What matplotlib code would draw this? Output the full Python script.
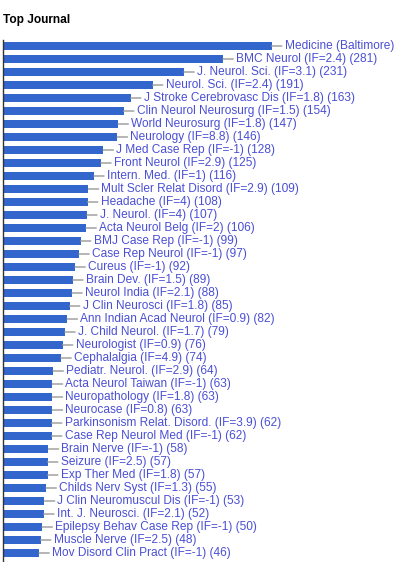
import matplotlib
matplotlib.use("Agg")
import matplotlib.pyplot as plt

journals = [
    "Medicine (Baltimore)", "BMC Neurol", "J. Neurol. Sci.", "Neurol. Sci.",
    "J Stroke Cerebrovasc Dis", "Clin Neurol Neurosurg", "World Neurosurg",
    "Neurology", "J Med Case Rep", "Front Neurol", "Intern. Med.",
    "Mult Scler Relat Disord", "Headache", "J. Neurol.", "Acta Neurol Belg",
    "BMJ Case Rep", "Case Rep Neurol", "Cureus", "Brain Dev.", "Neurol India",
    "J Clin Neurosci", "Ann Indian Acad Neurol", "J. Child Neurol.",
    "Neurologist", "Cephalalgia", "Pediatr. Neurol.", "Acta Neurol Taiwan",
    "Neuropathology", "Neurocase", "Parkinsonism Relat. Disord.",
    "Case Rep Neurol Med", "Brain Nerve", "Seizure", "Exp Ther Med",
    "Childs Nerv Syst", "J Clin Neuromuscul Dis", "Int. J. Neurosci.",
    "Epilepsy Behav Case Rep", "Muscle Nerve", "Mov Disord Clin Pract",
]
impact = ["1.6", "2.4", "3.1", "2.4", "1.8", "1.5", "1.8", "8.8", "-1", "2.9",
          "1", "2.9", "4", "4", "2", "-1", "-1", "-1", "1.5", "2.1", "1.8",
          "0.9", "1.7", "0.9", "4.9", "2.9", "-1", "1.8", "0.8", "3.9", "-1",
          "-1", "2.5", "1.8", "1.3", "-1", "2.1", "-1", "2.5", "-1"]
counts = [343, 281, 231, 191, 163, 154, 147, 146, 128, 125, 116, 109, 108,
          107, 106, 99, 97, 92, 89, 88, 85, 82, 79, 76, 74, 64, 63, 63, 63,
          62, 62, 58, 57, 57, 55, 53, 52, 50, 48, 46]

plt.rcParams['font.family'] = ['Liberation Sans', 'DejaVu Sans']

W, H = 398, 562
fig = plt.figure(figsize=(W / 100, H / 100), dpi=100)
fig.patch.set_facecolor('white')

top_px, bot_px = 39.5, 562
ax = fig.add_axes([3 / W, 0, 1 - 3 / W, (H - top_px) / H])
n = len(journals)
step_px = 13.0
extra = (bot_px - top_px) / step_px - n
ax.set_ylim(n - 0.5 + extra, -0.5)
ax.set_xlim(0, 395 / 0.783)

ypos = list(range(n))
ax.barh(ypos, counts, height=0.62, color='#3366cc', zorder=2)

for i, (name, imp, c) in enumerate(zip(journals, impact, counts)):
    ax.annotate(f"{name} (IF={imp}) ({c})", xy=(c, i), xytext=(13, 0),
                textcoords='offset pixels', ha='left', va='center',
                fontsize=8.6, color='#4a4fd4', annotation_clip=False,
                arrowprops=dict(arrowstyle='-', color='#999999', lw=1,
                                shrinkA=0, shrinkB=0, relpos=(0, 0.5)))

for s in ['top', 'right', 'bottom']:
    ax.spines[s].set_visible(False)
ax.spines['left'].set_color('#333333')
ax.spines['left'].set_linewidth(1)
ax.set_xticks([])
ax.set_yticks([])
ax.patch.set_alpha(0)

fig.text(3 / W, 1 - 19.5 / H, "Top Journal", fontsize=8.6, fontweight='bold',
         ha='left', va='center', color='#000000')

fig.savefig("out.png", dpi=100)
